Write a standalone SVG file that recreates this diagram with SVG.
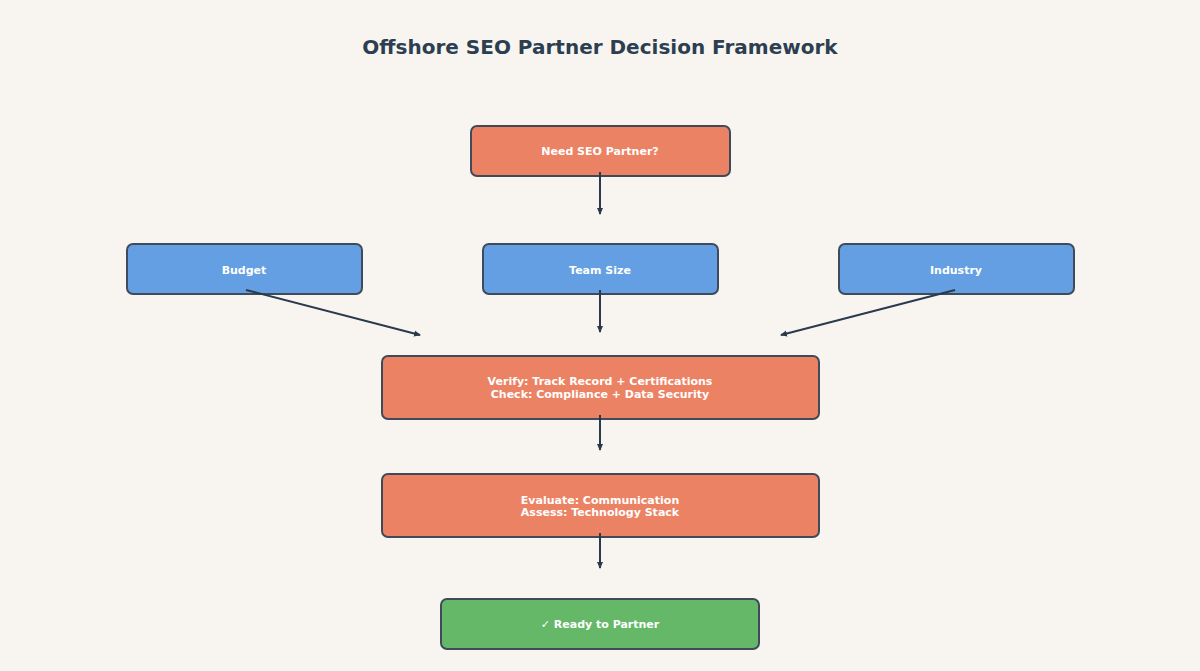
<svg xmlns="http://www.w3.org/2000/svg" width="1200" height="671" viewBox="0 0 1200 671">
<style>
.n rect{stroke:#3f4b5a;stroke-width:2}
.o{fill:#ec8264}.b{fill:#639fe2}.g{fill:#64b867}
.n text{font-family:"DejaVu Sans",sans-serif;font-weight:bold;font-size:11px;fill:#fff;text-anchor:middle}
.c line{stroke:#2a3a4c;stroke-width:2;marker-end:url(#a)}
</style>
<defs><marker id="a" markerWidth="8" markerHeight="8" refX="6" refY="4" orient="auto" markerUnits="userSpaceOnUse"><path d="M0,1 L7,4 L0,7 Z" fill="#2a3a4c"/></marker></defs>
<rect width="1200" height="671" fill="#f8f5f1"/>
<text x="600" y="54" text-anchor="middle" font-family="DejaVu Sans,sans-serif" font-weight="bold" font-size="20" fill="#2c3e50">Offshore SEO Partner Decision Framework</text>
<g id="need" class="n"><rect class="o" x="471" y="126" width="259" height="50" rx="6"/><text x="600" y="155">Need SEO Partner?</text></g>
<g id="budget" class="n"><rect class="b" x="127" y="244" width="235" height="50" rx="6"/><text x="244" y="274">Budget</text></g>
<g id="team" class="n"><rect class="b" x="483" y="244" width="235" height="50" rx="6"/><text x="600" y="274">Team Size</text></g>
<g id="industry" class="n"><rect class="b" x="839" y="244" width="235" height="50" rx="6"/><text x="956" y="274">Industry</text></g>
<g id="verify" class="n"><rect class="o" x="382" y="356" width="437" height="63" rx="6"/><text x="600" y="385">Verify: Track Record + Certifications</text><text x="600" y="398">Check: Compliance + Data Security</text></g>
<g id="evaluate" class="n"><rect class="o" x="382" y="474" width="437" height="63" rx="6"/><text x="600" y="504">Evaluate: Communication</text><text x="600" y="516">Assess: Technology Stack</text></g>
<g id="ready" class="n"><rect class="g" x="441" y="599" width="318" height="50" rx="6"/><text x="600" y="628">✓ Ready to Partner</text></g>
<g class="c">
<line x1="600" y1="172" x2="600" y2="214"/>
<line x1="600" y1="290" x2="600" y2="332"/>
<line x1="246" y1="290" x2="420" y2="335"/>
<line x1="955" y1="290" x2="781" y2="335"/>
<line x1="600" y1="415" x2="600" y2="450"/>
<line x1="600" y1="533" x2="600" y2="568"/>
</g>
</svg>
